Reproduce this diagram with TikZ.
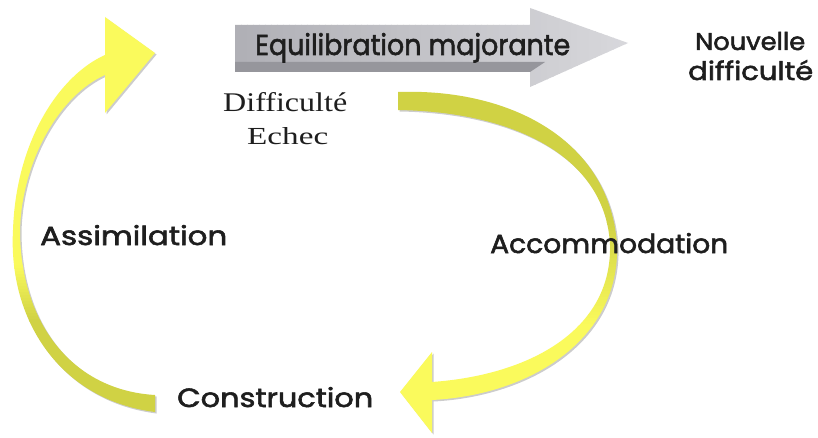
\documentclass[tikz,border=0pt]{standalone}
\usepackage{fontspec}
\usepackage{graphicx}
\setmainfont{Liberation Serif}
\newfontfamily\labelfont{Poppins}[FakeBold=2]

\definecolor{arcolive}{RGB}{208,210,68}
\definecolor{arcyellow}{RGB}{250,250,92}
\definecolor{garrowdark}{RGB}{176,176,182}
\definecolor{garrowlight}{RGB}{216,216,220}
\definecolor{garrowedge}{RGB}{150,150,156}
\definecolor{inktext}{RGB}{30,30,30}

% outlines of the two curved arrows
\newcommand\accompath{(398,345) .. controls (510,349) and (610,297) .. (617,192)
  .. controls (620,97) and (530,42) .. (432,37)
  -- (432,4) -- (400,45) -- (432,85) -- (432,55)
  .. controls (530,62) and (612,107) .. (610,192)
  .. controls (606,277) and (520,325) .. (398,327) -- cycle}
\newcommand\assimpath{(155,25) .. controls (60,37) and (8,117) .. (13,207)
  .. controls (16,297) and (60,362) .. (105,382)
  -- (105,420) -- (155,384) -- (105,324) -- (105,362)
  .. controls (60,342) and (22,277) .. (20,207)
  .. controls (20,117) and (70,47) .. (155,42) -- cycle}
\newcommand\greypath{(235,412) -- (530,412) -- (530,429) -- (628,394) -- (530,350) -- (530,365) -- (235,365) -- cycle}

% text scaled to a given width and height
\newcommand\sizedtext[3]{\resizebox{#1}{#2}{#3}}

\tikzset{
  shadowfill/.style={fill=black,opacity=.2,shift={(1.5,-1.5)}},
  comiclabel/.style={anchor=base west,inner sep=0pt,text=inktext,font=\labelfont},
  seriflabel/.style={anchor=base west,inner sep=0pt,text=inktext},
}

\begin{document}
\begin{tikzpicture}[x=1pt,y=1pt]
\useasboundingbox[fill=white] (0,0) rectangle (818,437);

% Accommodation arc, head pointing left: olive tail above, yellow head below
\fill[shadowfill] \accompath;
\begin{scope}
  \clip \accompath;
  \fill[arcyellow] (380,0) rectangle (630,112);
  \fill[arcolive] (380,212) rectangle (630,360);
  \foreach \y in {110,113,...,212} {
    \pgfmathtruncatemacro\pct{max(0,min(100,(215-\y)/1.05))}
    \fill[arcyellow!\pct!arcolive] (380,\y) rectangle (630,\y+3.3);
  }
\end{scope}

% Assimilation arc, head pointing up and right: olive tail below, yellow head above
\fill[shadowfill] \assimpath;
\begin{scope}
  \clip \assimpath;
  \fill[arcolive] (0,0) rectangle (170,117);
  \fill[arcyellow] (0,168) rectangle (170,437);
  \foreach \y in {115,118,...,169} {
    \pgfmathtruncatemacro\pct{max(0,min(100,(\y-115)/0.55))}
    \fill[arcyellow!\pct!arcolive] (0,\y) rectangle (170,\y+3.3);
  }
\end{scope}

% grey block arrow, darker on the left
\begin{scope}
  \clip \greypath;
  \foreach \x in {235,241,...,630} {
    \pgfmathtruncatemacro\pct{max(0,min(100,(\x-235)/3.93))}
    \fill[garrowlight!\pct!garrowdark] (\x,340) rectangle (\x+6.5,435);
  }
\end{scope}
\fill[garrowedge] (235,375) -- (545,375) -- (530,365) -- (235,365) -- cycle;

% labels
\node[comiclabel] (equil) at (255,382) {\sizedtext{315pt}{22pt}{Equilibration majorante}};
\node[comiclabel] (nouv) at (695,387) {\sizedtext{110pt}{18pt}{Nouvelle}};
\node[comiclabel] (diff) at (688,357) {\sizedtext{125pt}{20pt}{difficulté}};
\node[seriflabel] (diffic) at (223,325) {\sizedtext{124pt}{19pt}{Difficulté}};
\node[seriflabel] (echec) at (247,292) {\sizedtext{81pt}{17pt}{Echec}};
\node[comiclabel] (assim) at (40,192) {\sizedtext{187pt}{20pt}{Assimilation}};
\node[comiclabel] (accom) at (490,184) {\sizedtext{238pt}{20pt}{Accommodation}};
\node[comiclabel] (constr) at (177,30) {\sizedtext{196pt}{20pt}{Construction}};
\end{tikzpicture}
\end{document}
